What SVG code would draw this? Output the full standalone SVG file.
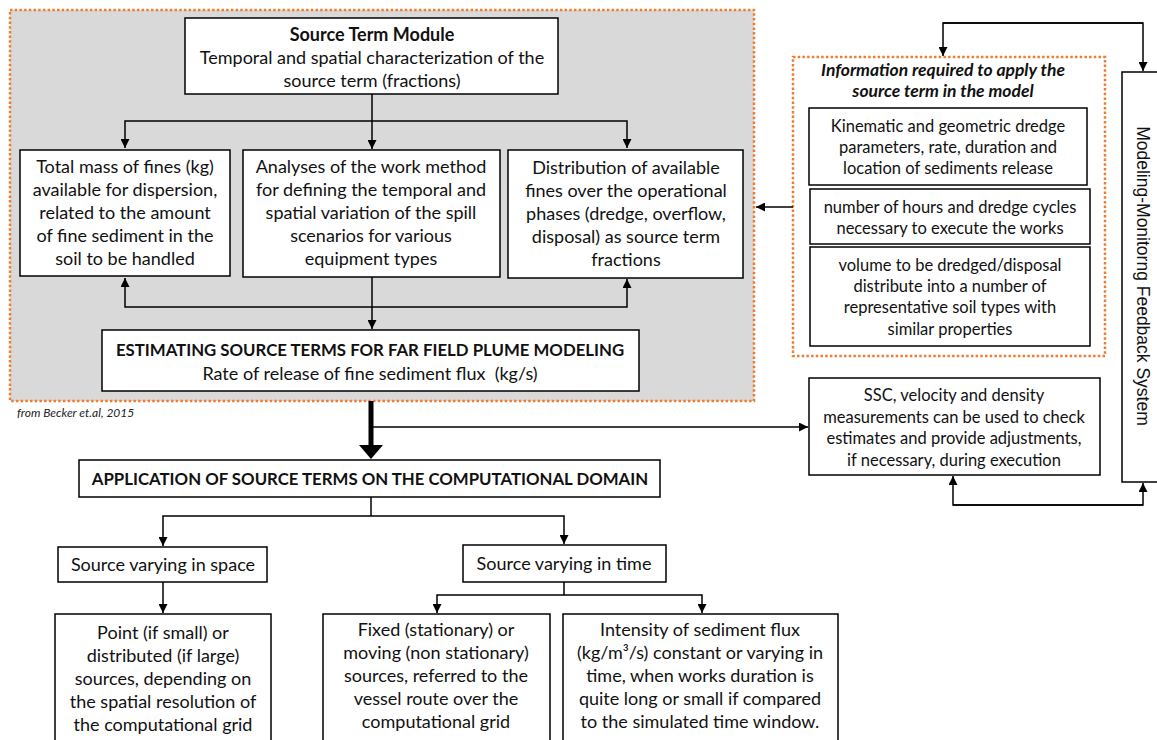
<svg xmlns="http://www.w3.org/2000/svg" width="1157" height="740" viewBox="0 0 1157 740">
<style>
.box{fill:#fff;stroke:#000;stroke-width:1.5}
.t{font-family:Lato,'Liberation Sans',sans-serif;font-size:18px;fill:#111;text-anchor:middle}
.b{font-weight:bold}
.bc{font-weight:bold;font-size:16.8px}
.s{font-size:16.5px}
.it{font-weight:bold;font-style:italic;font-size:17.5px}
.ln{fill:none;stroke:#000;stroke-width:1.5}
.dot{stroke:#ED7D31;stroke-width:2.5;stroke-dasharray:2.5 2.2}
</style>
<defs>
<marker id="ah" viewBox="0 0 10 10" refX="10" refY="5" markerWidth="9" markerHeight="9" markerUnits="userSpaceOnUse" orient="auto"><path d="M0,0L10,5L0,10z" fill="#000"/></marker>
</defs>

<rect id="module-area" x="10" y="10" width="744" height="391" fill="#d9d9d9" class="dot"/>
<rect id="info-area" x="793" y="57" width="312" height="299" fill="#fff" class="dot"/>

<g id="connectors" class="ln">
<path d="M372,94V121"/>
<path d="M372,121H125V148" marker-end="url(#ah)"/>
<path d="M372,121H627V148" marker-end="url(#ah)"/>
<path d="M372,121V149" marker-end="url(#ah)"/>
<path d="M372,277V329" marker-end="url(#ah)"/>
<path d="M372,307H125V278" marker-end="url(#ah)"/>
<path d="M372,307H627V279" marker-end="url(#ah)"/>
<path d="M793,207H756" marker-end="url(#ah)"/>
<path d="M371,401V447" stroke-width="5"/>
<polygon points="359,445 383,445 371,459" fill="#000" stroke="none"/>
<path d="M371,427H808" marker-end="url(#ah)"/>
<path d="M371,497V516"/>
<path d="M371,516H163V546" marker-end="url(#ah)"/>
<path d="M371,516H564V544" marker-end="url(#ah)"/>
<path d="M163,582V613" marker-end="url(#ah)"/>
<path d="M564,582V595"/>
<path d="M564,595H437V613" marker-end="url(#ah)"/>
<path d="M564,595H702V613" marker-end="url(#ah)"/>
<path d="M1143,23H943V56" marker-end="url(#ah)"/>
<path d="M943,23H1143V71" marker-end="url(#ah)"/>
<path d="M1143,505H953V476" marker-end="url(#ah)"/>
<path d="M953,505H1143V483" marker-end="url(#ah)"/>
</g>

<g id="source-term-module">
<rect class="box" x="185" y="18" width="373" height="76"/>
<text class="t b" x="372" y="41">Source Term Module</text>
<text class="t" x="372" y="64">Temporal and spatial characterization of the</text>
<text class="t" x="372" y="87">source term (fractions)</text>
</g>

<g id="total-mass">
<rect class="box" x="20" y="150" width="210" height="126"/>
<text class="t" x="125" y="173">Total mass of fines (kg)</text>
<text class="t" x="125" y="196">available for dispersion,</text>
<text class="t" x="125" y="219">related to the amount</text>
<text class="t" x="125" y="242">of fine sediment in the</text>
<text class="t" x="125" y="265">soil to be handled</text>
</g>

<g id="analyses">
<rect class="box" x="243" y="150" width="257" height="127"/>
<text class="t" x="371" y="173">Analyses of the work method</text>
<text class="t" x="371" y="196">for defining the temporal and</text>
<text class="t" x="371" y="219">spatial variation of the spill</text>
<text class="t" x="371" y="242">scenarios for various</text>
<text class="t" x="371" y="265">equipment types</text>
</g>

<g id="distribution">
<rect class="box" x="508" y="150" width="235" height="128"/>
<text class="t" x="626" y="174">Distribution of available</text>
<text class="t" x="626" y="197">fines over the operational</text>
<text class="t" x="626" y="220">phases (dredge, overflow,</text>
<text class="t" x="626" y="243">disposal) as source term</text>
<text class="t" x="626" y="266">fractions</text>
</g>

<g id="estimating">
<rect class="box" x="102" y="330" width="537" height="61"/>
<text class="t bc" x="370" y="356">ESTIMATING SOURCE TERMS FOR FAR FIELD PLUME MODELING</text>
<text class="t" x="370" y="380" xml:space="preserve">Rate of release of fine sediment flux  (kg/s)</text>
</g>

<text x="17" y="417" font-family="Lato,'Liberation Sans',sans-serif" font-size="12" font-style="italic" fill="#222">from Becker et.al, 2015</text>

<g id="info">
<text class="t it" x="943" y="76">Information required to apply the</text>
<text class="t it" x="943" y="97">source term in the model</text>
</g>
<g id="kinematic">
<rect class="box" x="809" y="108" width="278" height="77"/>
<text class="t s" x="948" y="132">Kinematic and geometric dredge</text>
<text class="t s" x="948" y="153">parameters, rate, duration and</text>
<text class="t s" x="948" y="174">location of sediments release</text>
</g>
<g id="hours">
<rect class="box" x="810" y="189" width="280" height="55"/>
<text class="t s" x="950" y="213">number of hours and dredge cycles</text>
<text class="t s" x="950" y="234">necessary to execute the works</text>
</g>
<g id="volume">
<rect class="box" x="810" y="247" width="280" height="99"/>
<text class="t s" x="950" y="271">volume to be dredged/disposal</text>
<text class="t s" x="950" y="292">distribute into a number of</text>
<text class="t s" x="950" y="313">representative soil types with</text>
<text class="t s" x="950" y="335">similar properties</text>
</g>

<g id="ssc">
<rect class="box" x="809" y="378" width="291" height="97"/>
<text class="t s" x="954" y="401">SSC, velocity and density</text>
<text class="t s" x="954" y="423">measurements can be used to check</text>
<text class="t s" x="954" y="444">estimates and provide adjustments,</text>
<text class="t s" x="954" y="466">if necessary, during execution</text>
</g>

<g id="feedback">
<rect class="box" x="1122" y="72" width="60" height="410"/>
<text transform="translate(1137,276) rotate(90)" text-anchor="middle" font-family="'Liberation Sans',Arial,sans-serif" font-size="17.5" fill="#111">Modeling-Monitorng Feedback System</text>
</g>

<g id="application">
<rect class="box" x="79" y="460" width="581" height="37"/>
<text class="t bc" x="370" y="485">APPLICATION OF SOURCE TERMS ON THE COMPUTATIONAL DOMAIN</text>
</g>

<g id="space">
<rect class="box" x="58" y="547" width="209" height="35"/>
<text class="t" x="163" y="571">Source varying in space</text>
</g>
<g id="time">
<rect class="box" x="463" y="545" width="203" height="37"/>
<text class="t" x="564" y="570">Source varying in time</text>
</g>

<g id="point">
<rect class="box" x="55" y="614" width="216" height="140"/>
<text class="t" x="163" y="639">Point (if small) or</text>
<text class="t" x="163" y="662">distributed (if large)</text>
<text class="t" x="163" y="685">sources, depending on</text>
<text class="t" x="163" y="708">the spatial resolution of</text>
<text class="t" x="163" y="731">the computational grid</text>
</g>
<g id="fixed">
<rect class="box" x="323" y="614" width="227" height="140"/>
<text class="t" x="436" y="636">Fixed (stationary) or</text>
<text class="t" x="436" y="659">moving (non stationary)</text>
<text class="t" x="436" y="682">sources, referred to the</text>
<text class="t" x="436" y="705">vessel route over the</text>
<text class="t" x="436" y="728">computational grid</text>
</g>
<g id="intensity">
<rect class="box" x="563" y="614" width="275" height="140"/>
<text class="t" x="700" y="636">Intensity of sediment flux</text>
<text class="t" x="700" y="659">(kg/m³/s) constant or varying in</text>
<text class="t" x="700" y="682">time, when works duration is</text>
<text class="t" x="700" y="705">quite long or small if compared</text>
<text class="t" x="700" y="728">to the simulated time window.</text>
</g>
</svg>
